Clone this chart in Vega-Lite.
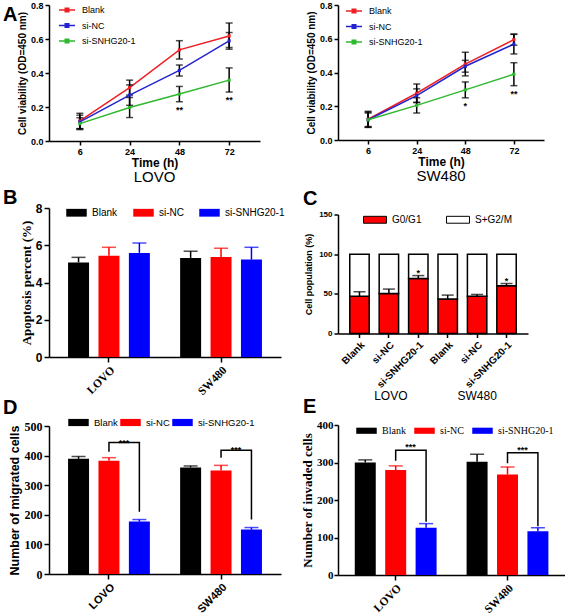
{
  "$schema": "https://vega.github.io/schema/vega-lite/v6.json",
  "background": "white",
  "padding": {"left": 3, "top": 1, "right": 0, "bottom": 0},
  "spacing": 16,
  "resolve": {"scale": {"color": "independent"}, "legend": {"color": "independent"}},
  "config": {
    "view": {"stroke": null},
    "font": "Liberation Sans",
    "axis": {"grid": false, "domainColor": "black", "tickColor": "black", "labelColor": "black", "titleColor": "black", "domainWidth": 1.5, "tickWidth": 1.5, "labelFontWeight": "bold", "titleFontWeight": "bold", "tickSize": 4, "labelPadding": 2, "labelOverlap": false},
    "title": {"fontSize": 20, "fontWeight": "bold", "anchor": "start", "frame": "group", "color": "black", "font": "Liberation Sans"},
    "legend": {"padding": 0, "labelColor": "black", "labelFontWeight": "normal"}
  },
  "datasets": {
    "cck8": [
      {"cell": "LOVO", "time": 6, "group": "Blank", "v": 0.118, "lo": 0.073, "hi": 0.163, "sig": ""},
      {"cell": "LOVO", "time": 24, "group": "Blank", "v": 0.314, "lo": 0.27, "hi": 0.358, "sig": ""},
      {"cell": "LOVO", "time": 48, "group": "Blank", "v": 0.536, "lo": 0.482, "hi": 0.59, "sig": ""},
      {"cell": "LOVO", "time": 72, "group": "Blank", "v": 0.618, "lo": 0.55, "hi": 0.694, "sig": ""},
      {"cell": "LOVO", "time": 6, "group": "si-NC", "v": 0.112, "lo": 0.072, "hi": 0.152, "sig": ""},
      {"cell": "LOVO", "time": 24, "group": "si-NC", "v": 0.27, "lo": 0.21, "hi": 0.33, "sig": ""},
      {"cell": "LOVO", "time": 48, "group": "si-NC", "v": 0.415, "lo": 0.382, "hi": 0.447, "sig": ""},
      {"cell": "LOVO", "time": 72, "group": "si-NC", "v": 0.589, "lo": 0.54, "hi": 0.638, "sig": ""},
      {"cell": "LOVO", "time": 6, "group": "si-SNHG20-1", "v": 0.102, "lo": 0.067, "hi": 0.137, "sig": ""},
      {"cell": "LOVO", "time": 24, "group": "si-SNHG20-1", "v": 0.197, "lo": 0.138, "hi": 0.256, "sig": ""},
      {"cell": "LOVO", "time": 48, "group": "si-SNHG20-1", "v": 0.276, "lo": 0.231, "hi": 0.321, "sig": "**"},
      {"cell": "LOVO", "time": 72, "group": "si-SNHG20-1", "v": 0.358, "lo": 0.288, "hi": 0.43, "sig": "**"},
      {"cell": "SW480", "time": 6, "group": "Blank", "v": 0.123, "lo": 0.075, "hi": 0.17, "sig": ""},
      {"cell": "SW480", "time": 24, "group": "Blank", "v": 0.277, "lo": 0.222, "hi": 0.332, "sig": ""},
      {"cell": "SW480", "time": 48, "group": "Blank", "v": 0.45, "lo": 0.38, "hi": 0.52, "sig": ""},
      {"cell": "SW480", "time": 72, "group": "Blank", "v": 0.595, "lo": 0.562, "hi": 0.628, "sig": ""},
      {"cell": "SW480", "time": 6, "group": "si-NC", "v": 0.12, "lo": 0.075, "hi": 0.165, "sig": ""},
      {"cell": "SW480", "time": 24, "group": "si-NC", "v": 0.263, "lo": 0.223, "hi": 0.303, "sig": ""},
      {"cell": "SW480", "time": 48, "group": "si-NC", "v": 0.437, "lo": 0.402, "hi": 0.472, "sig": ""},
      {"cell": "SW480", "time": 72, "group": "si-NC", "v": 0.568, "lo": 0.51, "hi": 0.626, "sig": ""},
      {"cell": "SW480", "time": 6, "group": "si-SNHG20-1", "v": 0.12, "lo": 0.08, "hi": 0.16, "sig": ""},
      {"cell": "SW480", "time": 24, "group": "si-SNHG20-1", "v": 0.205, "lo": 0.16, "hi": 0.25, "sig": ""},
      {"cell": "SW480", "time": 48, "group": "si-SNHG20-1", "v": 0.297, "lo": 0.25, "hi": 0.344, "sig": "*"},
      {"cell": "SW480", "time": 72, "group": "si-SNHG20-1", "v": 0.39, "lo": 0.322, "hi": 0.458, "sig": "**"}
    ],
    "apop": [
      {"cell": "LOVO", "cond": "Blank", "v": 5.08, "hi": 5.35},
      {"cell": "LOVO", "cond": "si-NC", "v": 5.44, "hi": 5.89},
      {"cell": "LOVO", "cond": "si-SNHG20-1", "v": 5.59, "hi": 6.12},
      {"cell": "SW480", "cond": "Blank", "v": 5.32, "hi": 5.68},
      {"cell": "SW480", "cond": "si-NC", "v": 5.37, "hi": 5.84},
      {"cell": "SW480", "cond": "si-SNHG20-1", "v": 5.23, "hi": 5.89}
    ],
    "cycle": [
      {"key": "LOVO|Blank", "phase": "G0/G1", "v": 47},
      {"key": "LOVO|Blank", "phase": "S+G2/M", "v": 53},
      {"key": "LOVO|si-NC", "phase": "G0/G1", "v": 50.4},
      {"key": "LOVO|si-NC", "phase": "S+G2/M", "v": 49.6},
      {"key": "LOVO|si-SNHG20-1", "phase": "G0/G1", "v": 69.4},
      {"key": "LOVO|si-SNHG20-1", "phase": "S+G2/M", "v": 30.6},
      {"key": "SW480|Blank", "phase": "G0/G1", "v": 43.4},
      {"key": "SW480|Blank", "phase": "S+G2/M", "v": 56.6},
      {"key": "SW480|si-NC", "phase": "G0/G1", "v": 47.1},
      {"key": "SW480|si-NC", "phase": "S+G2/M", "v": 52.9},
      {"key": "SW480|si-SNHG20-1", "phase": "G0/G1", "v": 60.1},
      {"key": "SW480|si-SNHG20-1", "phase": "S+G2/M", "v": 39.9}
    ],
    "cycleErr": [
      {"key": "LOVO|Blank", "v": 47, "hi": 52.6, "sig": ""},
      {"key": "LOVO|si-NC", "v": 50.4, "hi": 56, "sig": ""},
      {"key": "LOVO|si-SNHG20-1", "v": 69.4, "hi": 73, "sig": "*"},
      {"key": "SW480|Blank", "v": 43.4, "hi": 48.4, "sig": ""},
      {"key": "SW480|si-NC", "v": 47.1, "hi": 49.2, "sig": ""},
      {"key": "SW480|si-SNHG20-1", "v": 60.1, "hi": 63, "sig": "*"}
    ],
    "mig": [
      {"cell": "LOVO", "cond": "Blank", "v": 389, "hi": 397},
      {"cell": "LOVO", "cond": "si-NC", "v": 383, "hi": 393},
      {"cell": "LOVO", "cond": "si-SNHG20-1", "v": 177, "hi": 184},
      {"cell": "SW480", "cond": "Blank", "v": 360, "hi": 365},
      {"cell": "SW480", "cond": "si-NC", "v": 350, "hi": 367},
      {"cell": "SW480", "cond": "si-SNHG20-1", "v": 150, "hi": 157}
    ],
    "migBr": [
      {"cell": "LOVO", "cond": "si-NC", "y": 413, "o": 1},
      {"cell": "LOVO", "cond": "si-NC", "y": 444, "o": 2},
      {"cell": "LOVO", "cond": "si-SNHG20-1", "y": 444, "o": 3},
      {"cell": "LOVO", "cond": "si-SNHG20-1", "y": 210, "o": 4},
      {"cell": "SW480", "cond": "si-NC", "y": 393, "o": 1},
      {"cell": "SW480", "cond": "si-NC", "y": 418, "o": 2},
      {"cell": "SW480", "cond": "si-SNHG20-1", "y": 418, "o": 3},
      {"cell": "SW480", "cond": "si-SNHG20-1", "y": 184, "o": 4}
    ],
    "migStar": [
      {"cell": "LOVO", "y": 444, "t": "***"},
      {"cell": "SW480", "y": 418, "t": "***"}
    ],
    "inv": [
      {"cell": "LOVO", "cond": "Blank", "v": 300, "hi": 307},
      {"cell": "LOVO", "cond": "si-NC", "v": 280, "hi": 291},
      {"cell": "LOVO", "cond": "si-SNHG20-1", "v": 126, "hi": 137},
      {"cell": "SW480", "cond": "Blank", "v": 302, "hi": 322},
      {"cell": "SW480", "cond": "si-NC", "v": 268, "hi": 288},
      {"cell": "SW480", "cond": "si-SNHG20-1", "v": 117, "hi": 126}
    ],
    "invBr": [
      {"cell": "LOVO", "cond": "si-NC", "y": 305, "o": 1},
      {"cell": "LOVO", "cond": "si-NC", "y": 333, "o": 2},
      {"cell": "LOVO", "cond": "si-SNHG20-1", "y": 333, "o": 3},
      {"cell": "LOVO", "cond": "si-SNHG20-1", "y": 142, "o": 4},
      {"cell": "SW480", "cond": "si-NC", "y": 298, "o": 1},
      {"cell": "SW480", "cond": "si-NC", "y": 326, "o": 2},
      {"cell": "SW480", "cond": "si-SNHG20-1", "y": 326, "o": 3},
      {"cell": "SW480", "cond": "si-SNHG20-1", "y": 130, "o": 4}
    ],
    "invStar": [
      {"cell": "LOVO", "y": 333, "t": "***"},
      {"cell": "SW480", "y": 326, "t": "***"}
    ]
  },
  "hconcat": [
    {
      "spacing": 1,
      "resolve": {"scale": {"color": "independent"}, "legend": {"color": "independent"}},
      "vconcat": [
        {
          "spacing": 3,
          "resolve": {"scale": {"color": "independent"}, "legend": {"color": "independent"}},
          "vconcat": [
            {
              "title": {"text": "A", "dx": -46, "offset": -24},
              "vconcat": [
                {
                  "width": 211, "height": 136,
                  "data": {"name": "cck8"},
                  "transform": [{"filter": "datum.cell == 'LOVO'"}],
                  "title": {"text": "LOVO", "orient": "bottom", "anchor": "middle", "fontSize": 15, "fontWeight": "normal", "baseline": "top", "offset": 2},
                  "encoding": {
                    "x": {"field": "time", "type": "ordinal", "scale": {"type": "point", "padding": 0.62}, "axis": {"title": "Time (h)", "labelAngle": 0, "labelFontSize": 9, "titleFontSize": 12, "titlePadding": 1}}
                  },
                  "layer": [
                    {"mark": {"type": "line", "strokeWidth": 1.5},
                     "encoding": {
                       "y": {"field": "v", "type": "quantitative", "title": "Cell viability (OD=450 nm)", "scale": {"domain": [0, 0.8], "nice": false}, "axis": {"values": [0, 0.2, 0.4, 0.6, 0.8], "tickCount": 10, "format": ".1f", "labelFontSize": 9, "titleFontSize": 10, "titlePadding": 3}},
                       "color": {"field": "group", "type": "nominal", "scale": {"domain": ["Blank", "si-NC", "si-SNHG20-1"], "range": ["#ee2024", "#2323d0", "#2eb82e"]},
                         "legend": {"title": null, "orient": "none", "legendX": 9, "legendY": -4, "symbolType": "M-1,0H1M-0.22,-0.22H0.22V0.22H-0.22Z", "symbolSize": 256, "symbolStrokeWidth": 1.5, "labelFontSize": 9, "labelOffset": 6, "rowPadding": 1.5}}
                     }},
                    {"mark": {"type": "rule", "color": "black", "strokeWidth": 1.5}, "encoding": {"y": {"field": "lo", "type": "quantitative", "title": "Cell viability (OD=450 nm)"}, "y2": {"field": "hi"}}},
                    {"mark": {"type": "tick", "orient": "horizontal", "color": "black", "size": 7, "thickness": 1.5}, "encoding": {"y": {"field": "lo", "type": "quantitative", "title": "Cell viability (OD=450 nm)"}}},
                    {"mark": {"type": "tick", "orient": "horizontal", "color": "black", "size": 7, "thickness": 1.5}, "encoding": {"y": {"field": "hi", "type": "quantitative", "title": "Cell viability (OD=450 nm)"}}},
                    {"mark": {"type": "point", "shape": "square", "filled": true, "size": 10, "opacity": 1}, "encoding": {"y": {"field": "v", "type": "quantitative", "title": "Cell viability (OD=450 nm)"}, "color": {"field": "group", "type": "nominal"}}},
                    {"transform": [{"filter": "datum.sig != ''"}], "mark": {"type": "text", "baseline": "alphabetic", "dy": 11, "fontSize": 9, "fontWeight": "bold", "color": "black"}, "encoding": {"y": {"field": "lo", "type": "quantitative", "title": "Cell viability (OD=450 nm)"}, "text": {"field": "sig"}}}
                  ]
                }
              ]
            },
            {
              "width": 232, "height": 149,
              "data": {"name": "apop"},
              "title": {"text": "B", "dx": -46, "offset": -6},
              "encoding": {
                "x": {"field": "cell", "type": "nominal", "sort": ["LOVO", "SW480"], "scale": {"paddingInner": 0.27, "paddingOuter": 0.17}, "axis": {"title": null, "labelAngle": -45, "labelFont": "Liberation Serif", "labelFontSize": 11.5, "tickSize": 5}},
                "xOffset": {"field": "cond", "type": "nominal", "sort": ["Blank", "si-NC", "si-SNHG20-1"], "scale": {"paddingInner": 0.31, "paddingOuter": 0}}
              },
              "layer": [
                {"mark": "bar", "encoding": {
                  "y": {"field": "v", "type": "quantitative", "title": "Apoptosis percent (%)", "scale": {"domain": [0, 8], "nice": false}, "axis": {"values": [0, 2, 4, 6, 8], "tickCount": 10, "titleFont": "Liberation Serif", "titleFontSize": 13, "labelFontSize": 12, "tickSize": 5, "titlePadding": 2}},
                  "color": {"field": "cond", "type": "nominal", "scale": {"domain": ["Blank", "si-NC", "si-SNHG20-1"], "range": ["#000000", "#ff0000", "#0000ff"]},
                    "legend": {"title": null, "orient": "none", "direction": "horizontal", "legendX": 17, "legendY": -6, "symbolType": "M-1,-0.38H1V0.38H-1Z", "symbolSize": 420, "symbolStrokeWidth": 0, "labelFontSize": 10, "labelOffset": 5, "columnPadding": 15}}
                }},
                {"mark": {"type": "rule", "strokeWidth": 1.5}, "encoding": {"y": {"field": "v", "type": "quantitative", "title": "Apoptosis percent (%)"}, "y2": {"field": "hi"}, "stroke": {"field": "cond", "type": "nominal", "scale": {"domain": ["Blank", "si-NC", "si-SNHG20-1"], "range": ["#000000", "#ff0000", "#0000ff"]}, "legend": null}}},
                {"mark": {"type": "tick", "orient": "horizontal", "size": 14, "thickness": 1.5}, "encoding": {"y": {"field": "hi", "type": "quantitative", "title": "Apoptosis percent (%)"}, "fill": {"field": "cond", "type": "nominal", "scale": {"domain": ["Blank", "si-NC", "si-SNHG20-1"], "range": ["#000000", "#ff0000", "#0000ff"]}, "legend": null}}}
              ]
            }
          ]
        },
        {
          "width": 232, "height": 148,
          "title": {"text": "D", "dx": -46, "offset": -6},
          "encoding": {
            "x": {"field": "cell", "type": "nominal", "sort": ["LOVO", "SW480"], "scale": {"paddingInner": 0.27, "paddingOuter": 0.17}, "axis": {"title": null, "labelAngle": -45, "labelFontSize": 11, "tickSize": 5}}
          },
          "layer": [
            {"data": {"name": "mig"}, "mark": "bar", "encoding": {
              "xOffset": {"field": "cond", "type": "nominal", "sort": ["Blank", "si-NC", "si-SNHG20-1"], "scale": {"paddingInner": 0.31, "paddingOuter": 0}},
              "y": {"field": "v", "type": "quantitative", "title": "Number of migrated cells", "scale": {"domain": [0, 500], "nice": false}, "axis": {"values": [0, 100, 200, 300, 400, 500], "tickCount": 10, "titleFontSize": 12.5, "labelFont": "Liberation Serif", "labelFontSize": 12, "tickSize": 5, "titlePadding": 3}},
              "color": {"field": "cond", "type": "nominal", "scale": {"domain": ["Blank", "si-NC", "si-SNHG20-1"], "range": ["#000000", "#ff0000", "#0000ff"]},
                "legend": {"title": null, "orient": "none", "direction": "horizontal", "legendX": 19, "legendY": -14, "symbolType": "M-1,-0.35H1V0.35H-1Z", "symbolSize": 420, "symbolStrokeWidth": 0, "labelFontSize": 9.5, "labelOffset": 5, "columnPadding": 2}}
            }},
            {"data": {"name": "mig"}, "mark": {"type": "rule", "strokeWidth": 1.5}, "encoding": {"xOffset": {"field": "cond", "type": "nominal"}, "y": {"field": "v", "type": "quantitative", "title": "Number of migrated cells"}, "y2": {"field": "hi"}, "stroke": {"field": "cond", "type": "nominal", "scale": {"domain": ["Blank", "si-NC", "si-SNHG20-1"], "range": ["#000000", "#ff0000", "#0000ff"]}, "legend": null}}},
            {"data": {"name": "mig"}, "mark": {"type": "tick", "orient": "horizontal", "size": 14, "thickness": 1.5}, "encoding": {"xOffset": {"field": "cond", "type": "nominal"}, "y": {"field": "hi", "type": "quantitative", "title": "Number of migrated cells"}, "fill": {"field": "cond", "type": "nominal", "scale": {"domain": ["Blank", "si-NC", "si-SNHG20-1"], "range": ["#000000", "#ff0000", "#0000ff"]}, "legend": null}}},
            {"data": {"name": "migBr"}, "mark": {"type": "line", "color": "black", "strokeWidth": 1.5}, "encoding": {"xOffset": {"field": "cond", "type": "nominal"}, "y": {"field": "y", "type": "quantitative", "title": "Number of migrated cells"}, "detail": {"field": "cell"}, "order": {"field": "o"}}},
            {"data": {"name": "migStar"}, "mark": {"type": "text", "dx": 15, "dy": 3, "baseline": "alphabetic", "fontSize": 9, "fontWeight": "bold", "color": "black"}, "encoding": {"y": {"field": "y", "type": "quantitative", "title": "Number of migrated cells"}, "text": {"field": "t"}}}
          ]
        }
      ]
    },
    {
      "spacing": -5,
      "resolve": {"scale": {"color": "independent"}, "legend": {"color": "independent"}},
      "vconcat": [
        {
          "spacing": 4.5,
          "resolve": {"scale": {"color": "independent"}, "legend": {"color": "independent"}},
          "vconcat": [
            {
              "width": 206, "height": 135,
              "data": {"name": "cck8"},
              "transform": [{"filter": "datum.cell == 'SW480'"}],
              "title": {"text": "SW480", "orient": "bottom", "anchor": "middle", "fontSize": 15, "fontWeight": "normal", "baseline": "top", "offset": 2},
              "encoding": {
                "x": {"field": "time", "type": "ordinal", "scale": {"type": "point", "padding": 0.62}, "axis": {"title": "Time (h)", "labelAngle": 0, "labelFontSize": 9, "titleFontSize": 12, "titlePadding": 1}}
              },
              "layer": [
                {"mark": {"type": "line", "strokeWidth": 1.5},
                 "encoding": {
                   "y": {"field": "v", "type": "quantitative", "title": "Cell viability (OD=450 nm)", "scale": {"domain": [0, 0.8], "nice": false}, "axis": {"values": [0, 0.2, 0.4, 0.6, 0.8], "tickCount": 10, "format": ".1f", "labelFontSize": 9, "titleFontSize": 10, "titlePadding": 3}},
                   "color": {"field": "group", "type": "nominal", "scale": {"domain": ["Blank", "si-NC", "si-SNHG20-1"], "range": ["#ee2024", "#2323d0", "#2eb82e"]},
                     "legend": {"title": null, "orient": "none", "legendX": 7, "legendY": -3, "symbolType": "M-1,0H1M-0.22,-0.22H0.22V0.22H-0.22Z", "symbolSize": 256, "symbolStrokeWidth": 1.5, "labelFontSize": 9, "labelOffset": 6, "rowPadding": 1.5}}
                 }},
                {"mark": {"type": "rule", "color": "black", "strokeWidth": 1.5}, "encoding": {"y": {"field": "lo", "type": "quantitative", "title": "Cell viability (OD=450 nm)"}, "y2": {"field": "hi"}}},
                {"mark": {"type": "tick", "orient": "horizontal", "color": "black", "size": 7, "thickness": 1.5}, "encoding": {"y": {"field": "lo", "type": "quantitative", "title": "Cell viability (OD=450 nm)"}}},
                {"mark": {"type": "tick", "orient": "horizontal", "color": "black", "size": 7, "thickness": 1.5}, "encoding": {"y": {"field": "hi", "type": "quantitative", "title": "Cell viability (OD=450 nm)"}}},
                {"mark": {"type": "point", "shape": "square", "filled": true, "size": 10, "opacity": 1}, "encoding": {"y": {"field": "v", "type": "quantitative", "title": "Cell viability (OD=450 nm)"}, "color": {"field": "group", "type": "nominal"}}},
                {"transform": [{"filter": "datum.sig != ''"}], "mark": {"type": "text", "baseline": "alphabetic", "dy": 11, "fontSize": 9, "fontWeight": "bold", "color": "black"}, "encoding": {"y": {"field": "lo", "type": "quantitative", "title": "Cell viability (OD=450 nm)"}, "text": {"field": "sig"}}}
              ]
            },
            {
              "width": 190, "height": 119,
              "title": {"text": "C", "dx": -35, "offset": -1},
              "encoding": {
                "x": {"field": "key", "type": "nominal", "sort": ["LOVO|Blank", "LOVO|si-NC", "LOVO|si-SNHG20-1", "SW480|Blank", "SW480|si-NC", "SW480|si-SNHG20-1"], "scale": {"paddingInner": 0.34, "paddingOuter": 0.4},
                  "axis": {"labelExpr": "split(datum.label, '|')[1]", "labelAngle": -45, "labelFontSize": 10, "title": "LOVO\u00a0\u00a0\u00a0\u00a0\u00a0\u00a0\u00a0\u00a0\u00a0\u00a0\u00a0\u00a0\u00a0\u00a0\u00a0SW480", "titleFontWeight": "normal", "titleFontSize": 12, "titleX": 97, "titleY": 62, "titleBaseline": "middle"}}
              },
              "layer": [
                {"data": {"name": "cycle"}, "mark": {"type": "bar", "stroke": "black", "strokeWidth": 1.5}, "encoding": {
                  "y": {"field": "v", "type": "quantitative", "title": "Cell population (%)", "stack": "zero", "scale": {"domain": [0, 150], "nice": false}, "axis": {"values": [0, 50, 100, 150], "tickCount": 10, "labelFontSize": 8, "titleFontSize": 9, "titlePadding": 5}},
                  "color": {"field": "phase", "type": "nominal", "scale": {"domain": ["G0/G1", "S+G2/M"], "range": ["#ff0000", "#ffffff"]},
                    "legend": {"title": null, "orient": "none", "direction": "horizontal", "legendX": 25, "legendY": -7, "symbolType": "M-1,-0.3H1V0.3H-1Z", "symbolSize": 529, "symbolStrokeColor": "black", "symbolStrokeWidth": 1, "labelFontSize": 10, "labelOffset": 5, "columnPadding": 22}},
                  "order": {"field": "phase", "sort": "ascending"}
                }},
                {"data": {"name": "cycleErr"}, "mark": {"type": "rule", "color": "black", "strokeWidth": 1.5}, "encoding": {"y": {"field": "v", "type": "quantitative", "title": "Cell population (%)"}, "y2": {"field": "hi"}}},
                {"data": {"name": "cycleErr"}, "mark": {"type": "tick", "orient": "horizontal", "color": "black", "size": 12, "thickness": 1.5}, "encoding": {"y": {"field": "hi", "type": "quantitative", "title": "Cell population (%)"}}},
                {"data": {"name": "cycleErr"}, "transform": [{"filter": "datum.sig != ''"}], "mark": {"type": "text", "baseline": "alphabetic", "dy": 0, "fontSize": 9, "fontWeight": "bold", "color": "black"}, "encoding": {"y": {"field": "hi", "type": "quantitative", "title": "Cell population (%)"}, "text": {"field": "sig"}}}
              ]
            }
          ]
        },
        {
          "width": 227, "height": 150,
          "title": {"text": "E", "dx": -35, "offset": 2},
          "encoding": {
            "x": {"field": "cell", "type": "nominal", "sort": ["LOVO", "SW480"], "scale": {"paddingInner": 0.27, "paddingOuter": 0.15}, "axis": {"title": null, "labelAngle": -45, "labelFont": "Liberation Serif", "labelFontSize": 11.5, "tickSize": 5}}
          },
          "layer": [
            {"data": {"name": "inv"}, "mark": "bar", "encoding": {
              "xOffset": {"field": "cond", "type": "nominal", "sort": ["Blank", "si-NC", "si-SNHG20-1"], "scale": {"paddingInner": 0.31, "paddingOuter": 0}},
              "y": {"field": "v", "type": "quantitative", "title": "Number of invaded cells", "scale": {"domain": [0, 400], "nice": false}, "axis": {"values": [0, 100, 200, 300, 400], "tickCount": 10, "titleFont": "Liberation Serif", "titleFontSize": 13, "labelFont": "Liberation Serif", "labelFontSize": 11, "tickSize": 4, "labelPadding": 1, "titlePadding": 2}},
              "color": {"field": "cond", "type": "nominal", "scale": {"domain": ["Blank", "si-NC", "si-SNHG20-1"], "range": ["#000000", "#ff0000", "#0000ff"]},
                "legend": {"title": null, "orient": "none", "direction": "horizontal", "legendX": 18, "legendY": -5, "symbolType": "M-1,-0.3H1V0.3H-1Z", "symbolSize": 420, "symbolStrokeWidth": 0, "labelFont": "Liberation Serif", "labelFontSize": 10, "labelOffset": 5, "columnPadding": 8}}
            }},
            {"data": {"name": "inv"}, "mark": {"type": "rule", "strokeWidth": 1.5}, "encoding": {"xOffset": {"field": "cond", "type": "nominal"}, "y": {"field": "v", "type": "quantitative", "title": "Number of invaded cells"}, "y2": {"field": "hi"}, "stroke": {"field": "cond", "type": "nominal", "scale": {"domain": ["Blank", "si-NC", "si-SNHG20-1"], "range": ["#000000", "#ff0000", "#0000ff"]}, "legend": null}}},
            {"data": {"name": "inv"}, "mark": {"type": "tick", "orient": "horizontal", "size": 14, "thickness": 1.5}, "encoding": {"xOffset": {"field": "cond", "type": "nominal"}, "y": {"field": "hi", "type": "quantitative", "title": "Number of invaded cells"}, "fill": {"field": "cond", "type": "nominal", "scale": {"domain": ["Blank", "si-NC", "si-SNHG20-1"], "range": ["#000000", "#ff0000", "#0000ff"]}, "legend": null}}},
            {"data": {"name": "invBr"}, "mark": {"type": "line", "color": "black", "strokeWidth": 1.5}, "encoding": {"xOffset": {"field": "cond", "type": "nominal"}, "y": {"field": "y", "type": "quantitative", "title": "Number of invaded cells"}, "detail": {"field": "cell"}, "order": {"field": "o"}}},
            {"data": {"name": "invStar"}, "mark": {"type": "text", "dx": 15, "dy": 0, "baseline": "alphabetic", "fontSize": 9, "fontWeight": "bold", "color": "black"}, "encoding": {"y": {"field": "y", "type": "quantitative", "title": "Number of invaded cells"}, "text": {"field": "t"}}}
          ]
        }
      ]
    }
  ]
}
